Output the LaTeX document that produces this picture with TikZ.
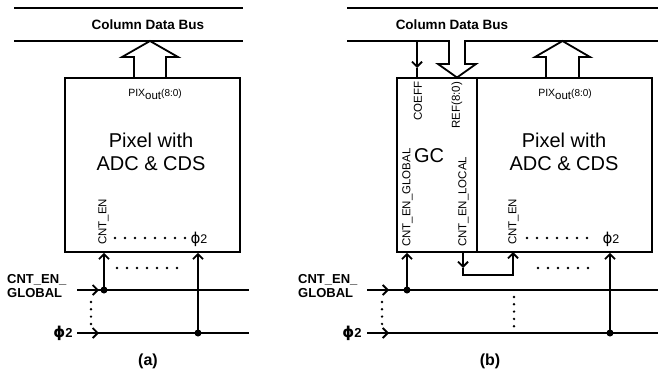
\documentclass[tikz,border=0pt]{standalone}
\usepackage{fontspec}
\setmainfont{Liberation Sans}
\newfontfamily\phifont{DejaVu Sans}
\usetikzlibrary{arrows.meta}
\begin{document}
\begin{tikzpicture}[x=1pt,y=-1pt,
 wire/.style={line width=1.8pt},
 tip/.style={-{Straight Barb[length=5pt,width=10pt]}},
 box/.style={draw,line width=1.8pt,minimum height=174pt,inner sep=0},
 dotj/.style={circle,fill,inner sep=0,minimum size=7pt},
 dots/.style={line width=2.7pt,line cap=round,dash pattern=on 0pt off 10pt},
 vdots/.style={line width=2.7pt,line cap=round,dash pattern=on 0pt off 7.3pt},
 lbl/.style={font=\fontsize{13}{14}\selectfont\bfseries,inner sep=0},
 rot/.style={rotate=90,anchor=west,inner sep=0,font=\fontsize{11.5}{12}\selectfont},
 big/.style={font=\fontsize{20}{23}\selectfont,align=center,inner sep=0},
 bustxt/.style={font=\fontsize{13.5}{14}\selectfont\bfseries,inner sep=0},
 pixout/.style={font=\fontsize{10.5}{12}\selectfont,inner sep=0},
 captxt/.style={font=\fontsize{16}{16}\selectfont\bfseries,inner sep=0},
 phin/.style={font=\fontsize{12.5}{12}\selectfont,inner sep=0},
 ]
\useasboundingbox (0,0) rectangle (658,372);
\newcommand{\pixo}{PIX\raisebox{-2.5pt}{\fontsize{11.5}{12}\selectfont out}\raisebox{0.5pt}{\fontsize{10}{10}\selectfont(8:0)}}
\newcommand{\phig}{{\phifont\fontsize{15}{15}\selectfont ϕ}}
\newcommand{\phib}{{\phifont\bfseries\fontsize{15}{15}\selectfont ϕ}}

% ================= (a) =================
\coordinate (aT1) at (14,8);  \coordinate (aT2) at (243,8);
\coordinate (aB1) at (14,41); \coordinate (aB2) at (243,41);
\draw[wire] (aT1) -- (aT2);
\draw[wire] (aB1) -- (aB2);
\node[bustxt] (aBus) at (148,25) {Column Data Bus};
\node[box,minimum width=175pt] (pixA) at (152.5,165) {};
\draw[wire,line join=miter] (134,78) -- (134,57) -- (122,57) -- (150,41) -- (178,57) -- (166,57) -- (166,78);
\node[pixout] (aPix) at (155,94) {\pixo};
\node[big] (aTxt) at (151,152) {Pixel with\\ADC \& CDS};
\node[rot] (aCnt) at (103.5,245) {CNT\_EN};
\node[phin] (aPhi) at (199,239) {\phig2};
\draw[dots] (115,238) -- (187,238);

\coordinate (aIn1) at (77,290); \coordinate (aE1) at (249,290);
\coordinate (aIn2) at (77,333); \coordinate (aE2) at (249,333);
\draw[wire] (aIn1) -- (aE1);
\draw[wire] (aIn2) -- (aE2);
\draw[wire,tip] (aIn1) -- ++(22,0);
\draw[wire,tip] (aIn2) -- ++(22,0);
\node[dotj] (aJ1) at (104,290) {};
\node[dotj] (aJ2) at (198,333) {};
\draw[wire,tip] (aJ1.center) -- (aJ1.center |- pixA.south);
\draw[wire,tip] (aJ2.center) -- (aJ2.center |- pixA.south);
\draw[dots] (117,268) -- (187,268);
\draw[vdots] (91,302) -- (91,324);
\node[lbl,align=left,anchor=west] (aLab1) at (7,286) {CNT\_EN\_\\GLOBAL};
\node[lbl] (aLab2) at (63,333) {\phib2};
\node[captxt] (aCap) at (148,361) {(a)};

% ================= (b) =================
\coordinate (bT1) at (347,8);  \coordinate (bT2) at (658,8);
\draw[wire] (bT1) -- (bT2);
\node[bustxt] (bBus) at (452,25) {Column Data Bus};
\node[box,minimum width=80pt] (gc) at (437,165) {};
\node[box,minimum width=175pt] (pixB) at (564.5,165) {};
\draw[wire,line join=miter] (347,41) -- (449,41) -- (449,64) -- (438,64) -- (457,77.5) -- (476,64) -- (465,64) -- (465,41) -- (658,41);
\draw[wire,line join=miter] (546,78) -- (546,57) -- (535,57) -- (562.5,41) -- (590,57) -- (579,57) -- (579,78);
\coordinate (bCo) at (417,41); \coordinate (bCm) at (417,68);
\draw[wire,tip] (bCo) -- (bCm);
\draw[wire] (bCm) -- (bCm |- gc.north);
\node[rot] (bCoeff) at (418,121) {COEFF};
\node[rot] (bRef) at (457,129) {REF(8:0)};
\node[big] (bGC) at (429,156) {GC};
\node[rot] (bCg) at (407.5,247) {CNT\_EN\_GLOBAL};
\node[rot] (bCl) at (463.5,247) {CNT\_EN\_LOCAL};
\node[rot] (bCnt) at (513.5,245) {CNT\_EN};
\node[pixout] (bPix) at (565,94) {\pixo};
\node[big] (bTxt) at (564,152) {Pixel with\\ADC \& CDS};
\node[phin] (bPhi) at (611,239) {\phig2};
\draw[dots] (527,238) -- (597,238);

\coordinate (bIn1) at (367,290); \coordinate (bE1) at (658,290);
\coordinate (bIn2) at (367,333); \coordinate (bE2) at (658,333);
\draw[wire] (bIn1) -- (bE1);
\draw[wire] (bIn2) -- (bE2);
\draw[wire,tip] (bIn1) -- ++(22,0);
\draw[wire,tip] (bIn2) -- ++(22,0);
\node[dotj] (bJ1) at (407,290) {};
\node[dotj] (bJ2) at (610,333) {};
\draw[wire,tip] (bJ1.center) -- (bJ1.center |- gc.south);
\draw[wire,tip] (bJ2.center) -- (bJ2.center |- pixB.south);
\coordinate (bL0) at (463,252); \coordinate (bL1) at (463,268);
\coordinate (bL2) at (463,275); \coordinate (bL3) at (513,275);
\coordinate (bL4) at (513,252);
\draw[wire,tip] (bL0) -- (bL1);
\draw[wire,tip,line join=miter] (bL1) -- (bL2) -- (bL3) -- (bL4);
\draw[dots] (538,268) -- (598,268);
\draw[vdots] (382,302) -- (382,326);
\draw[vdots] (514,297) -- (514,327);
\node[lbl,align=left,anchor=west] (bLab1) at (298,286) {CNT\_EN\_\\GLOBAL};
\node[lbl] (bLab2) at (352,333) {\phib2};
\node[captxt] (bCap) at (490,361) {(b)};
\end{tikzpicture}
\end{document}
